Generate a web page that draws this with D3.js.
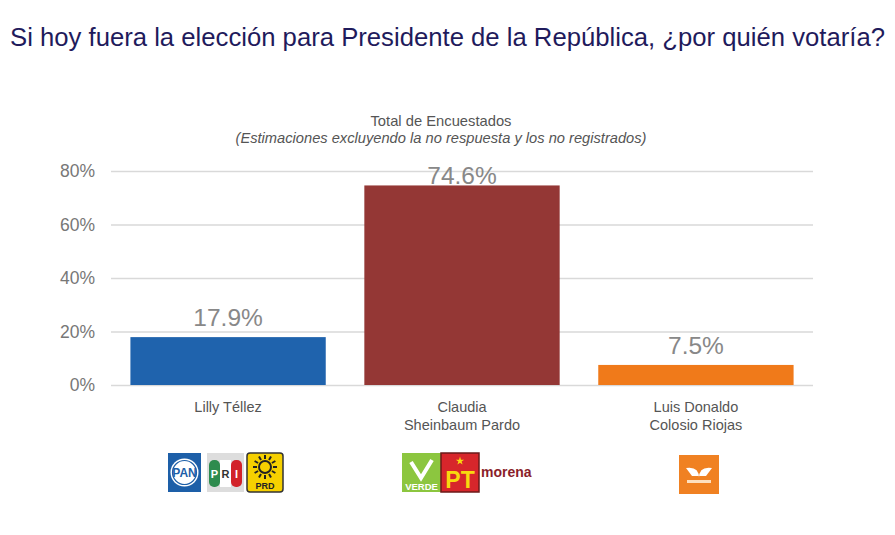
<!DOCTYPE html>
<html><head><meta charset="utf-8">
<script src="https://cdn.jsdelivr.net/npm/d3@7"></script>
<style>body{margin:0;background:#fff;font-family:"Liberation Sans",Arial,sans-serif}</style>
</head><body>
<svg id="c" width="895" height="535"></svg>
<script>
const categories = ["Lilly Téllez", "Claudia\nSheinbaum Pardo", "Luis Donaldo\nColosio Riojas"];
const values = [17.9, 74.6, 7.5];
const barColors = ["#1f63ad", "#943735", "#f07a1a"];
const yTicks = [0, 20, 40, 60, 80];

const svg = d3.select("#c");
const m = {left: 111, right: 813, top: 171, bottom: 385};

svg.append("text").attr("x", 10).attr("y", 46).attr("fill", "#1f1b5c")
  .attr("font-size", 26).attr("textLength", 875).attr("lengthAdjust", "spacingAndGlyphs")
  .text("Si hoy fuera la elección para Presidente de la República, ¿por quién votaría?");

svg.append("text").attr("x", 441).attr("y", 126).attr("text-anchor", "middle").attr("fill", "#555")
  .attr("font-size", 14.5).attr("textLength", 141).attr("lengthAdjust", "spacingAndGlyphs").text("Total de Encuestados");
svg.append("text").attr("x", 441).attr("y", 143).attr("text-anchor", "middle").attr("fill", "#555")
  .attr("font-size", 14.5).attr("font-style", "italic").attr("textLength", 411).attr("lengthAdjust", "spacingAndGlyphs")
  .text("(Estimaciones excluyendo la no respuesta y los no registrados)");

const x = d3.scaleBand().domain(categories).range([m.left, m.right]).paddingInner(0.165).paddingOuter(0.083);
const y = d3.scaleLinear().domain([0, 80]).range([m.bottom, m.top]);

const yAxis = svg.append("g").attr("transform", `translate(${m.left},0)`)
  .call(d3.axisLeft(y).tickValues(yTicks).tickFormat(d => d + "%").tickSize(-(m.right - m.left)).tickPadding(16));
yAxis.select(".domain").remove();
yAxis.selectAll(".tick line").attr("stroke", "#d9d9d9").attr("stroke-width", 1.3);
yAxis.selectAll(".tick text").attr("fill", "#777").attr("font-size", 17.5).attr("font-family", "Liberation Sans, Arial, sans-serif");

svg.append("g").selectAll("rect").data(categories).join("rect")
  .attr("x", d => x(d)).attr("width", x.bandwidth())
  .attr("y", (d, i) => y(values[i])).attr("height", (d, i) => y(0) - y(values[i]))
  .attr("fill", (d, i) => barColors[i]);

svg.append("g").selectAll("text").data(categories).join("text")
  .attr("x", d => x(d) + x.bandwidth() / 2).attr("y", (d, i) => Math.max(y(values[i]) - 11, m.top + 13))
  .attr("text-anchor", "middle").attr("fill", "#888").attr("font-size", 24.5)
  .text((d, i) => values[i].toFixed(1) + "%");

const cl = svg.append("g").selectAll("text").data(categories).join("text")
  .attr("x", d => x(d) + x.bandwidth() / 2).attr("y", 412)
  .attr("text-anchor", "middle").attr("fill", "#555").attr("font-size", 14.5);
cl.each(function(d) {
  const t = d3.select(this);
  d.split("\n").forEach((s, i) => t.append("tspan").attr("x", t.attr("x")).attr("dy", i ? 18 : 0).text(s));
});

// Party logos (simplified)
const lg = svg.append("g").attr("font-family", "Liberation Sans, Arial, sans-serif").attr("font-weight", "bold");
// PAN
lg.append("rect").attr("x", 168).attr("y", 453).attr("width", 33).attr("height", 39).attr("fill", "#1d5fa8");
lg.append("circle").attr("cx", 184.5).attr("cy", 472.5).attr("r", 14).attr("fill", "#fff");
lg.append("circle").attr("cx", 184.5).attr("cy", 472.5).attr("r", 12).attr("fill", "none").attr("stroke", "#1d5fa8").attr("stroke-width", 1.2);
lg.append("text").attr("x", 184.5).attr("y", 477).attr("text-anchor", "middle").attr("font-size", 12).attr("fill", "#1d5fa8").text("PAN");
// PRI
lg.append("rect").attr("x", 207).attr("y", 453).attr("width", 37).attr("height", 39).attr("fill", "#ddd");
lg.append("rect").attr("x", 209).attr("y", 460).attr("width", 11).attr("height", 27).attr("fill", "#2e8b4e").attr("rx", 5);
lg.append("rect").attr("x", 220).attr("y", 460).attr("width", 11).attr("height", 27).attr("fill", "#fff");
lg.append("rect").attr("x", 231).attr("y", 460).attr("width", 11).attr("height", 27).attr("fill", "#d2232a").attr("rx", 5);
lg.append("text").attr("x", 214.5).attr("y", 478).attr("text-anchor", "middle").attr("font-size", 11).attr("fill", "#fff").text("P");
lg.append("text").attr("x", 225.5).attr("y", 478).attr("text-anchor", "middle").attr("font-size", 11).attr("fill", "#333").text("R");
lg.append("text").attr("x", 236.5).attr("y", 478).attr("text-anchor", "middle").attr("font-size", 11).attr("fill", "#fff").text("I");
// PRD
lg.append("rect").attr("x", 247).attr("y", 453).attr("width", 36).attr("height", 39).attr("fill", "#f6d000").attr("stroke", "#333").attr("stroke-width", 1.5).attr("rx", 3);
lg.append("circle").attr("cx", 265).attr("cy", 467).attr("r", 6).attr("fill", "none").attr("stroke", "#222").attr("stroke-width", 2);
d3.range(12).forEach(i => {
  const a = i * Math.PI / 6;
  lg.append("line").attr("x1", 265 + 8 * Math.cos(a)).attr("y1", 467 + 8 * Math.sin(a))
    .attr("x2", 265 + 12 * Math.cos(a)).attr("y2", 467 + 12 * Math.sin(a)).attr("stroke", "#222").attr("stroke-width", 2);
});
lg.append("text").attr("x", 265).attr("y", 489).attr("text-anchor", "middle").attr("font-size", 9).attr("fill", "#222").text("PRD");
// VERDE
lg.append("rect").attr("x", 402).attr("y", 453).attr("width", 39).attr("height", 39).attr("fill", "#8cc63f");
lg.append("path").attr("d", "M411,462 L421,478 L432,460").attr("fill", "none").attr("stroke", "#fff").attr("stroke-width", 4);
lg.append("text").attr("x", 421.5).attr("y", 490).attr("text-anchor", "middle").attr("font-size", 9.5).attr("fill", "#fff").text("VERDE");
// PT
lg.append("rect").attr("x", 441).attr("y", 453).attr("width", 38).attr("height", 39).attr("fill", "#d7262b").attr("stroke", "#6b1a1a").attr("stroke-width", 1.5);
lg.append("text").attr("x", 460).attr("y", 488).attr("text-anchor", "middle").attr("font-size", 23).attr("fill", "#f8d90f").text("PT");
lg.append("path").attr("transform", "translate(460,461)").attr("d", d3.symbol(d3.symbolStar, 22)()).attr("fill", "#f8d90f");
// morena
lg.append("text").attr("x", 481).attr("y", 477).attr("font-size", 14).attr("fill", "#8a1e2a").text("morena");
// MC
lg.append("rect").attr("x", 679).attr("y", 455).attr("width", 40).attr("height", 39).attr("fill", "#f08122");
lg.append("path").attr("d", "M686,468 Q699,466 699,478 Q699,466 712,468 L706,476 L692,476 Z").attr("fill", "#fff");
lg.append("rect").attr("x", 687).attr("y", 480).attr("width", 24).attr("height", 3).attr("fill", "#fde0c0");
</script>
</body></html>
